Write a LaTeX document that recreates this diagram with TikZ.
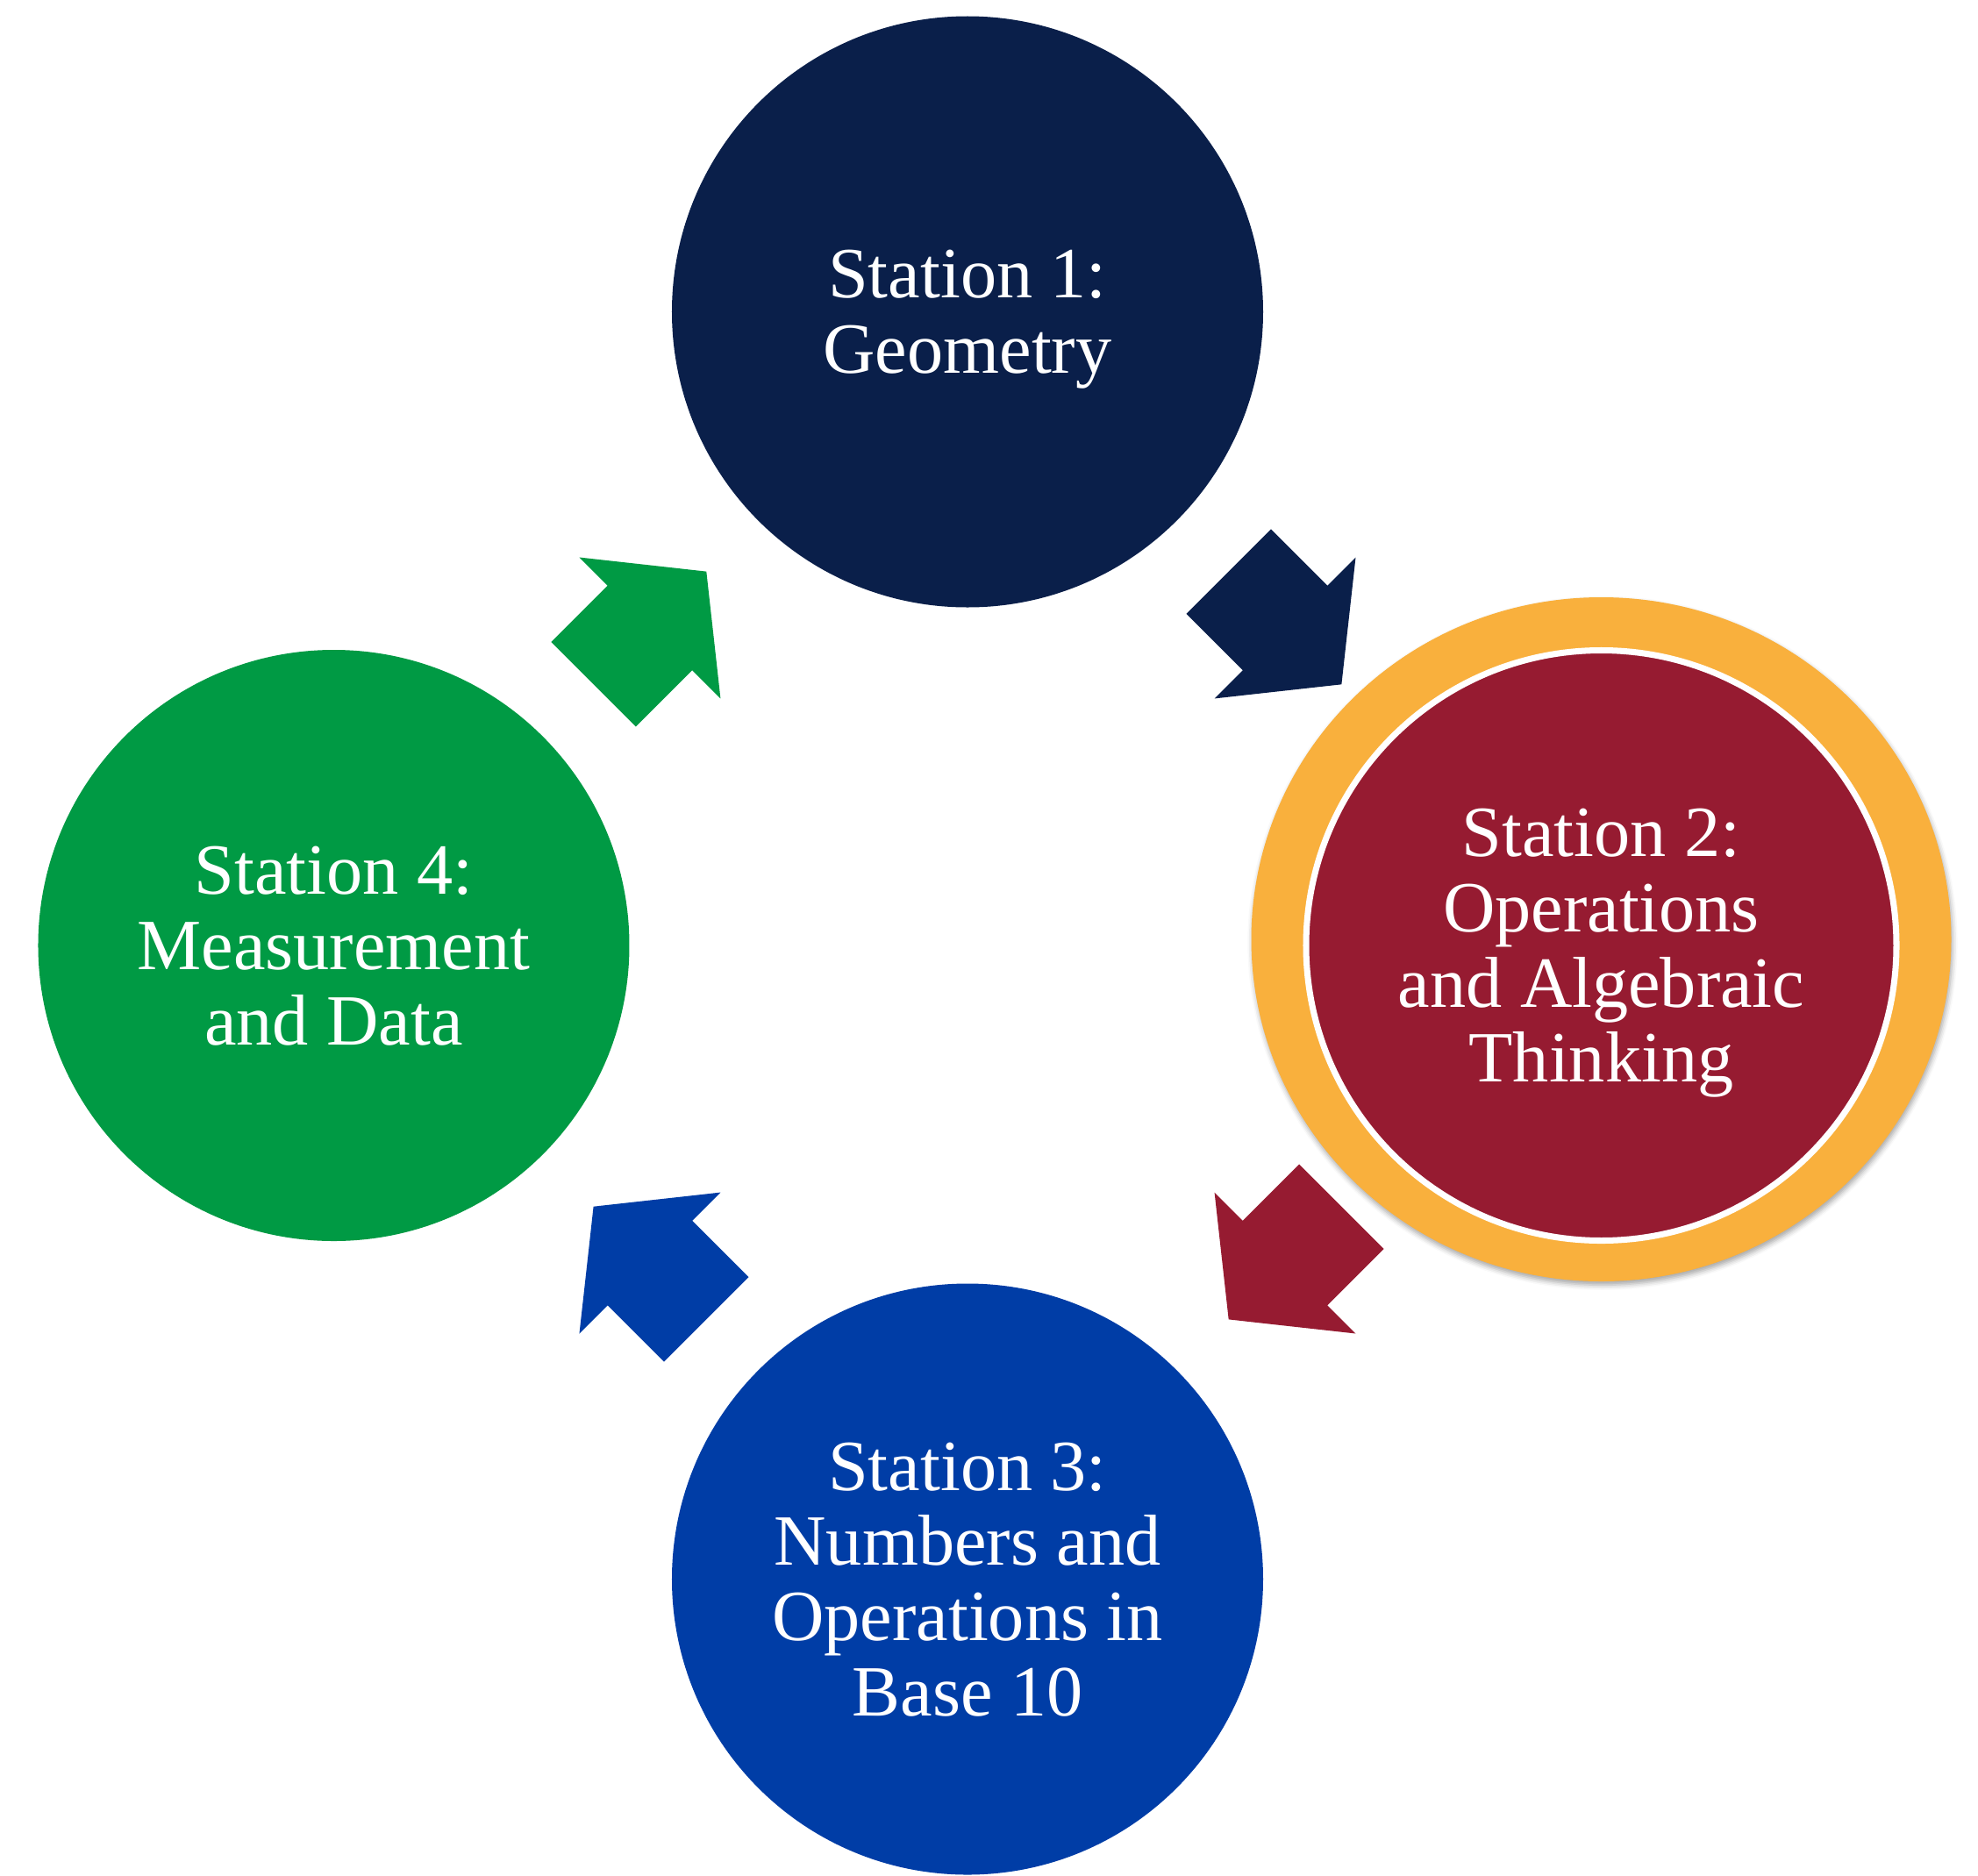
\documentclass[tikz,border=0pt]{standalone}
\usepackage{fontspec}
\setmainfont{Liberation Serif}
\usepackage{tikz}
\usetikzlibrary{positioning,shadows.blur}

\definecolor{stnavy}{HTML}{0A1F4A}
\definecolor{stred}{HTML}{961B31}
\definecolor{stblue}{HTML}{003DA6}
\definecolor{stgreen}{HTML}{009A44}
\definecolor{ringorange}{HTML}{F9B03D}

\begin{document}
\begin{tikzpicture}[
  station/.style={circle, minimum size=6.74cm, inner sep=0pt, align=center, text depth=0pt,
                  text=white, font=\fontsize{23.4}{24.4}\selectfont},
  ring/.style={fill=ringorange, blur shadow={shadow xshift=0.4pt, shadow yshift=-1.2pt,
               shadow blur radius=1.6pt, shadow opacity=35}}
]
\useasboundingbox (-11.03,-10.60) rectangle (11.52,10.78);
\coordinate (c1) at (90:7.225);
\coordinate (c2) at (0:7.225);
\coordinate (c3) at (-90:7.225);
\coordinate (c4) at (180:7.225);
% highlighted station gets an orange ring
\fill[ring] ([yshift=0.7mm]c2) ellipse [x radius=3.99, y radius=3.90];
\node[station, fill=stnavy] (s1) at (c1) {Station 1:\\Geometry};
\node[station, fill=stred, draw=white, line width=2pt, minimum size=6.73cm] (s2) at (c2)
  {Station 2:\\Operations\\and Algebraic\\Thinking};
\node[station, fill=stblue] (s3) at (c3) {Station 3:\\Numbers and\\Operations in\\Base 10};
\node[station, fill=stgreen] (s4) at (c4) {Station 4:\\Measurement\\and Data};
% block arrows, clockwise
\foreach \a/\c in {45/stnavy, -45/stred, -135/stblue, 135/stgreen}
  \fill[\c, shift={(\a:5.12)}, rotate={\a-90}]
    (-0.91,0.682) -- (0,0.682) -- (0,1.138) -- (0.91,0) -- (0,-1.138) -- (0,-0.682) -- (-0.91,-0.682) -- cycle;
\end{tikzpicture}
\end{document}
